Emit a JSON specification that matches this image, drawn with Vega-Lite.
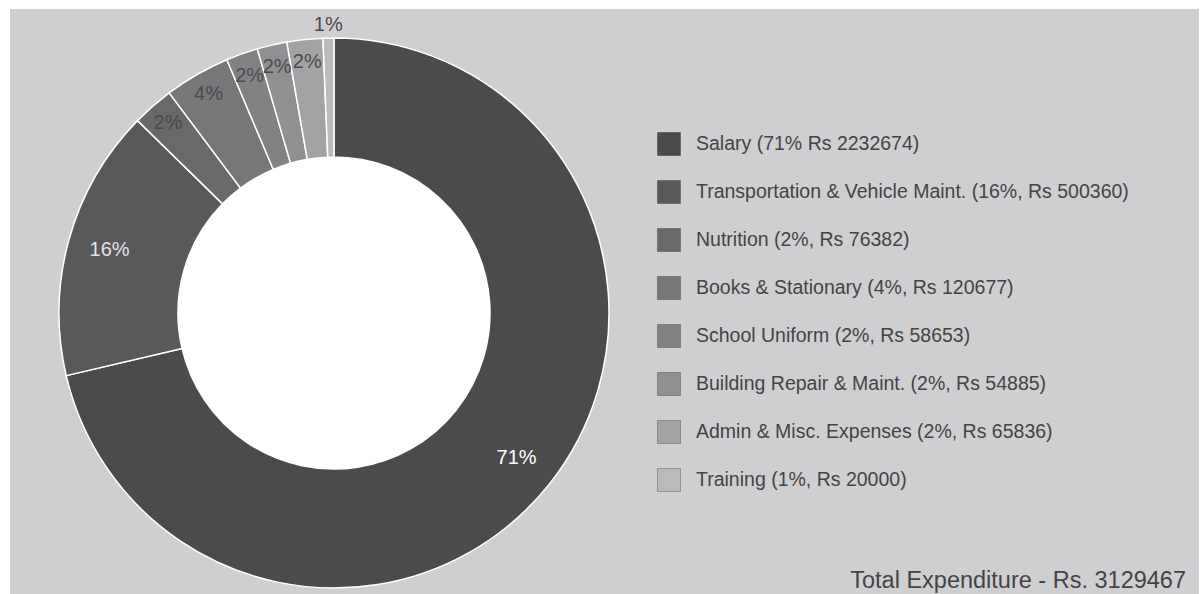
{
  "$schema": "https://vega.github.io/schema/vega-lite/v6.json",
  "background": "white",
  "padding": {"left": 10, "top": 9, "right": 2, "bottom": 0},
  "config": {
    "view": {"stroke": null, "fill": "#cfcfd1"},
    "font": "Liberation Sans",
    "concat": {"spacing": 0}
  },
  "datasets": {
    "spend": [
      {"order": 1, "label": "Salary (71% Rs 2232674)", "amount": 2232674, "pct": "71%"},
      {"order": 2, "label": "Transportation & Vehicle Maint. (16%, Rs 500360)", "amount": 500360, "pct": "16%"},
      {"order": 3, "label": "Nutrition (2%, Rs 76382)", "amount": 76382, "pct": "2%"},
      {"order": 4, "label": "Books & Stationary (4%, Rs 120677)", "amount": 120677, "pct": "4%"},
      {"order": 5, "label": "School Uniform (2%, Rs 58653)", "amount": 58653, "pct": "2%"},
      {"order": 6, "label": "Building Repair & Maint. (2%, Rs 54885)", "amount": 54885, "pct": "2%"},
      {"order": 7, "label": "Admin & Misc. Expenses (2%, Rs 65836)", "amount": 65836, "pct": "2%"},
      {"order": 8, "label": "Training (1%, Rs 20000)", "amount": 20000, "pct": "1%"}
    ]
  },
  "hconcat": [
    {
      "width": 648,
      "height": 608,
      "view": {"stroke": null, "fill": "#cfcfd1"},
      "data": {"name": "spend"},
      "layer": [
        {
          "data": {"values": [{"part": "hole"}]},
          "mark": {"type": "arc", "radius": 156, "theta": 0, "theta2": 6.2832, "fill": "white"},
          "encoding": {}
        },
        {
          "mark": {"type": "arc", "radius": 275, "radius2": 156, "stroke": "white", "strokeWidth": 1.5},
          "encoding": {
            "theta": {"field": "amount", "type": "quantitative", "stack": true},
            "order": {"field": "order", "type": "quantitative"},
            "color": {
              "field": "label",
              "type": "nominal",
              "sort": null,
              "scale": {"range": ["#4b4b4d", "#59595b", "#69696b", "#77777a", "#828285", "#909092", "#a3a3a5", "#bababc"]},
              "legend": {
                "orient": "none",
                "legendX": 647,
                "legendY": 123,
                "title": null,
                "padding": 0,
                "symbolType": "square",
                "symbolSize": 529,
                "symbolStrokeWidth": 1,
                "symbolStrokeColor": "rgba(0,0,0,0.25)",
                "labelFontSize": 19.5,
                "labelColor": "#444444",
                "labelOffset": 15,
                "labelLimit": 0,
                "rowPadding": 20
              }
            }
          }
        },
        {
          "mark": {"type": "text", "fontSize": 20, "radius": {"expr": "datum.order == 8 ? 288 : (datum.amount > 400000 ? 233 : 252)"}},
          "encoding": {
            "theta": {"field": "amount", "type": "quantitative", "stack": true},
            "order": {"field": "order", "type": "quantitative"},
            "text": {"field": "pct", "type": "nominal"},
            "color": {
              "condition": [
                {"test": "datum.order == 1", "value": "#ffffff"},
                {"test": "datum.order == 2", "value": "#e4e4e4"}
              ],
              "value": "#4a4a4c"
            }
          }
        }
      ]
    },
    {
      "width": 541,
      "height": 585,
      "data": {"values": [{"note": "Total Expenditure - Rs. 3129467"}]},
      "mark": {"type": "text", "align": "right", "baseline": "alphabetic", "fontSize": 23.5, "color": "#444444", "dx": -13, "dy": -6},
      "encoding": {
        "x": {"value": "width"},
        "y": {"value": "height"},
        "text": {"field": "note", "type": "nominal"}
      }
    }
  ]
}
